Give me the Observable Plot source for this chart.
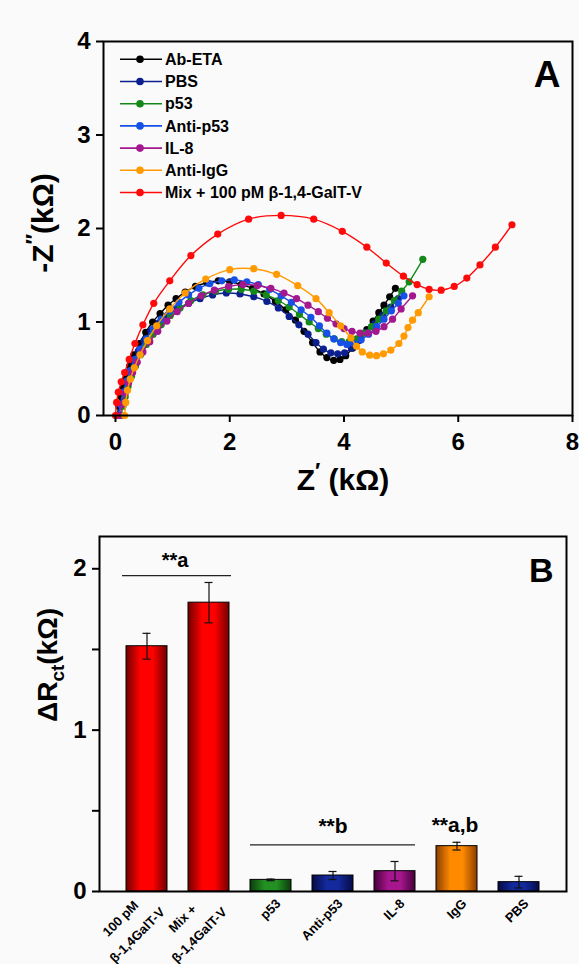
<!DOCTYPE html>
<html><head><meta charset="utf-8">
<script src="https://cdn.jsdelivr.net/npm/d3@7"></script>
<script src="https://cdn.jsdelivr.net/npm/@observablehq/plot@0.6"></script>
<style>
body{margin:0;background:#fafafa;}
#wrap{width:579px;height:964px;}
svg{display:block;}
</style></head><body><div id="wrap"></div>
<script>
// ---------- Panel A data (Nyquist) ----------
const seriesNames = ["Ab-ETA","PBS","p53","Anti-p53","IL-8","Anti-IgG","Mix + 100 pM β-1,4-GalT-V"];
const zAbEta = [[0.03,0],[0.06,0.1],[0.1,0.2],[0.14,0.3],[0.19,0.41],[0.25,0.53],[0.32,0.65],[0.42,0.77],[0.53,0.89],[0.65,1.0],[0.78,1.09],[0.92,1.18],[1.06,1.25],[1.22,1.32],[1.4,1.38],[1.6,1.42],[1.8,1.44],[2.0,1.43],[2.2,1.4],[2.4,1.36],[2.6,1.3],[2.8,1.22],[2.98,1.13],[3.15,1.02],[3.3,0.9],[3.45,0.78],[3.58,0.68],[3.7,0.62],[3.82,0.59],[3.93,0.6],[4.03,0.64],[4.15,0.72],[4.28,0.82],[4.4,0.92],[4.51,1.01],[4.61,1.1],[4.7,1.18],[4.8,1.27],[4.9,1.36]];
const zPBS = [[0.04,0],[0.08,0.12],[0.13,0.25],[0.18,0.36],[0.24,0.47],[0.31,0.58],[0.4,0.69],[0.5,0.8],[0.62,0.9],[0.76,0.99],[0.91,1.07],[1.08,1.14],[1.28,1.2],[1.48,1.25],[1.7,1.29],[1.94,1.31],[2.18,1.3],[2.42,1.27],[2.65,1.22],[2.85,1.15],[3.04,1.06],[3.21,0.97],[3.37,0.87],[3.51,0.78],[3.64,0.71],[3.77,0.67],[3.89,0.66],[4.01,0.67],[4.13,0.72],[4.26,0.8],[4.4,0.89],[4.54,0.98],[4.68,1.07],[4.82,1.16],[4.95,1.25]];
const zP53 = [[0.1,0],[0.13,0.1],[0.17,0.2],[0.22,0.31],[0.28,0.42],[0.35,0.53],[0.44,0.65],[0.54,0.76],[0.66,0.87],[0.8,0.97],[0.96,1.07],[1.13,1.15],[1.32,1.23],[1.53,1.29],[1.75,1.33],[1.98,1.35],[2.2,1.35],[2.42,1.33],[2.64,1.29],[2.85,1.23],[3.04,1.16],[3.22,1.08],[3.39,1.0],[3.55,0.93],[3.69,0.87],[3.83,0.82],[3.96,0.79],[4.09,0.79],[4.22,0.82],[4.35,0.88],[4.48,0.95],[4.61,1.03],[4.74,1.12],[4.88,1.23],[5.01,1.33],[5.14,1.43],[5.38,1.67]];
const zAntiP53 = [[0.05,0],[0.09,0.12],[0.14,0.25],[0.2,0.37],[0.26,0.48],[0.34,0.6],[0.43,0.71],[0.54,0.82],[0.66,0.93],[0.8,1.03],[0.95,1.12],[1.11,1.21],[1.28,1.29],[1.46,1.36],[1.65,1.41],[1.86,1.44],[2.08,1.45],[2.3,1.43],[2.5,1.4],[2.7,1.35],[2.9,1.28],[3.08,1.21],[3.25,1.13],[3.42,1.05],[3.57,0.96],[3.7,0.88],[3.82,0.82],[3.94,0.78],[4.05,0.76],[4.17,0.77],[4.3,0.81],[4.43,0.87],[4.57,0.95],[4.7,1.03],[4.83,1.12],[4.95,1.2],[5.05,1.28]];
const zIL8 = [[0.08,0],[0.12,0.12],[0.17,0.24],[0.23,0.35],[0.3,0.46],[0.38,0.57],[0.48,0.68],[0.6,0.79],[0.74,0.9],[0.9,1.01],[1.08,1.11],[1.28,1.2],[1.5,1.28],[1.73,1.34],[1.98,1.38],[2.23,1.4],[2.48,1.39],[2.72,1.36],[2.95,1.31],[3.17,1.25],[3.37,1.18],[3.55,1.11],[3.71,1.04],[3.86,0.98],[4.0,0.93],[4.14,0.9],[4.28,0.88],[4.42,0.88],[4.56,0.9],[4.7,0.95],[4.85,1.03],[5.0,1.14],[5.2,1.28]];
const zAntiIgG = [[0.16,0],[0.18,0.14],[0.21,0.27],[0.26,0.39],[0.33,0.51],[0.43,0.65],[0.56,0.8],[0.72,0.96],[0.95,1.14],[1.22,1.31],[1.58,1.46],[2.0,1.56],[2.42,1.57],[2.82,1.51],[3.19,1.39],[3.51,1.25],[3.74,1.1],[3.94,0.96],[4.12,0.83],[4.22,0.74],[4.32,0.68],[4.45,0.645],[4.57,0.64],[4.69,0.66],[4.82,0.7],[4.96,0.77],[5.05,0.85],[5.12,0.94],[5.2,1.02],[5.3,1.1],[5.49,1.27]];
const zMix = [[0.0,0],[0.02,0.14],[0.05,0.25],[0.1,0.36],[0.16,0.46],[0.24,0.6],[0.34,0.77],[0.48,0.97],[0.67,1.2],[0.95,1.44],[1.32,1.71],[1.79,1.94],[2.33,2.1],[2.9,2.14],[3.47,2.1],[3.97,1.97],[4.4,1.8],[4.74,1.63],[5.04,1.49],[5.28,1.4],[5.49,1.35],[5.7,1.34],[5.93,1.38],[6.15,1.47],[6.38,1.61],[6.65,1.8],[6.94,2.04]];
const xTicksA = [0,2,4,6,8];
const yTicksA = [0,1,2,3,4];

// ---------- Panel B data (bars) ----------
const barCategories = ["100 pM\nβ-1,4GalT-V","Mix +\nβ-1,4GalT-V","p53","Anti-p53","IL-8","IgG","PBS"];
const barValues = [1.52,1.79,0.072,0.099,0.126,0.281,0.058];
const barErrors = [0.08,0.125,0.005,0.025,0.06,0.024,0.036];
const groupA = {from: barCategories[0], to: barCategories[1], y: 1.958, label: "**a", labelY: 2.01};
const groupB = {from: barCategories[2], to: barCategories[4], y: 0.289, label: "**b", labelY: 0.36};
const groupAB = {at: barCategories[5], label: "**a,b", labelY: 0.367};
const yTicksB = [0,1,2];
const yMinorB = [0.5,1.5];

// ---------- styles ----------
const seriesColors = ["#000000","#0b1f8f","#14891a","#1650e6","#a3178f","#ff9a00","#ff0a0a"];
const barGrad = [["#700000","#ff0000"],["#700000","#ff0000"],["#0b3d0b","#229022"],["#050a45","#13299c"],["#45003a","#a8168f"],["#8a3e00","#ff8a00"],["#050a45","#13299c"]];
const FONT = "'Liberation Sans', Arial, sans-serif";
const intFmt = d3.format("d");
const wrap = document.getElementById("wrap");

// ---------- Panel A ----------
const seriesData = [zAbEta, zPBS, zP53, zAntiP53, zIL8, zAntiIgG, zMix];
const marksA = [];
seriesData.forEach((arr, i) => {
  marksA.push(Plot.line(arr, {x: d => d[0], y: d => d[1], stroke: seriesColors[i], strokeWidth: 1.4, curve: "catmull-rom"}));
  marksA.push(Plot.dot(arr, {x: d => d[0], y: d => d[1], fill: seriesColors[i], r: 3.6}));
});
const chartA = Plot.plot({
  width: 579, height: 500, marginLeft: 103, marginRight: 7, marginTop: 41, marginBottom: 85,
  style: {fontFamily: FONT, background: "#fafafa", color: "black", overflow: "visible"},
  x: {domain: [-0.21, 8]},
  y: {domain: [0, 4]},
  marks: [
    ...marksA,
    Plot.frame({stroke: "black", strokeWidth: 2}),
    Plot.axisX({ticks: xTicksA, tickFormat: intFmt, tickSize: 7, tickPadding: 10, fontSize: 24, fontWeight: "bold", label: null, strokeWidth: 2}),
    Plot.axisY({ticks: yTicksA, tickFormat: intFmt, tickSize: 7, tickPadding: 6, fontSize: 24, fontWeight: "bold", label: null, strokeWidth: 2}),
    Plot.text(["A"], {frameAnchor: "top-right", dx: -12, dy: 19, fontSize: 37, fontWeight: "bold", lineAnchor: "top"})
  ]
});
wrap.appendChild(chartA);
{
  const svg = d3.select(chartA);
  // legend
  const lg = svg.append("g").style("font", `bold 16px ${FONT}`).attr("text-anchor", "start");
  seriesNames.forEach((n, i) => {
    const y = 59.3 + i * 22.2;
    lg.append("line").attr("x1", 120).attr("x2", 162).attr("y1", y).attr("y2", y).attr("stroke", seriesColors[i]).attr("stroke-width", 1.6);
    lg.append("circle").attr("cx", 140).attr("cy", y).attr("r", 3.8).attr("fill", seriesColors[i]);
    lg.append("text").attr("x", 165).attr("y", y).attr("dy", "0.36em").attr("text-anchor", "start").attr("fill", "black").text(n);
  });
  // y title
  const ty = svg.append("text").attr("transform", "translate(53,223) rotate(-90)").attr("text-anchor", "middle")
    .style("font", `bold 30px ${FONT}`).attr("fill", "black");
  ty.append("tspan").text("-Z");
  ty.append("tspan").attr("dy", -12).style("font-size", "22px").text("″");
  ty.append("tspan").attr("dy", 12).text("(kΩ)");
  // x title
  const tx = svg.append("text").attr("x", 343).attr("y", 490).attr("text-anchor", "middle")
    .style("font", `bold 30px ${FONT}`).attr("fill", "black");
  tx.append("tspan").text("Z");
  tx.append("tspan").attr("dy", -12).style("font-size", "22px").text("′");
  tx.append("tspan").attr("dy", 12).text(" (kΩ)");
}

// ---------- Panel B ----------
const barRows = barCategories.map((c, i) => ({cat: c, val: barValues[i], err: barErrors[i], fill: `url(#bg${i})`}));
const chartB = Plot.plot({
  width: 579, height: 464, marginLeft: 99, marginRight: 13, marginTop: 36, marginBottom: 73,
  style: {fontFamily: FONT, background: "#fafafa", color: "black", overflow: "visible"},
  x: {domain: barCategories, paddingInner: 0.336, paddingOuter: 0.42, axis: null},
  y: {domain: [0, 2.2]},
  color: {type: "identity"},
  marks: [
    Plot.barY(barRows, {x: "cat", y: "val", fill: "fill", stroke: "black", strokeWidth: 1}),
    Plot.ruleX(barRows, {x: "cat", y1: d => d.val - d.err, y2: d => d.val + d.err, stroke: "#111", strokeWidth: 1.2}),
    Plot.tickY(barRows, {x: "cat", y: d => d.val + d.err, insetLeft: 16.5, insetRight: 16.5, stroke: "#111", strokeWidth: 1.2}),
    Plot.tickY(barRows, {x: "cat", y: d => d.val - d.err, insetLeft: 16.5, insetRight: 16.5, stroke: "#111", strokeWidth: 1.2}),
    Plot.ruleY([groupA], {x1: "from", x2: "to", y: "y", stroke: "#222", strokeWidth: 1.3, insetLeft: -4, insetRight: -2}),
    Plot.ruleY([groupB], {x1: "from", x2: "to", y: "y", stroke: "#222", strokeWidth: 1.3}),
    Plot.text([groupA], {x: "from", y: "labelY", text: "label", dx: 28, lineAnchor: "bottom", fontSize: 20, fontWeight: "bold"}),
    Plot.text([groupB], {x: "from", y: "labelY", text: "label", dx: 62, lineAnchor: "bottom", fontSize: 21, fontWeight: "bold"}),
    Plot.text([groupAB], {x: "at", y: "labelY", text: "label", dx: -2, lineAnchor: "bottom", fontSize: 21, fontWeight: "bold"}),
    Plot.frame({stroke: "black", strokeWidth: 2}),
    Plot.axisY({ticks: yTicksB, tickFormat: intFmt, tickSize: 7, tickPadding: 6, fontSize: 24, fontWeight: "bold", label: null, strokeWidth: 2}),
    Plot.axisY({ticks: yMinorB, tickSize: 7, tickFormat: () => "", label: null, strokeWidth: 2}),
    Plot.text(["B"], {frameAnchor: "top-right", dx: -13, dy: 21, fontSize: 34, fontWeight: "bold", lineAnchor: "top"})
  ]
});
wrap.appendChild(chartB);
{
  const svg = d3.select(chartB);
  const defs = svg.insert("defs", ":first-child");
  barGrad.forEach(([dark, light], i) => {
    const g = defs.append("linearGradient").attr("id", `bg${i}`).attr("x1", 0).attr("x2", 1).attr("y1", 0).attr("y2", 0);
    g.append("stop").attr("offset", "0%").attr("stop-color", dark);
    g.append("stop").attr("offset", "35%").attr("stop-color", light);
    g.append("stop").attr("offset", "65%").attr("stop-color", light);
    g.append("stop").attr("offset", "100%").attr("stop-color", dark);
  });
  // rotated category labels placed with the plot's own x/y scales
  const sx = chartB.scale("x"), sy = chartB.scale("y");
  const y0 = sy.apply(0);
  const lab = svg.append("g").style("font", `bold 13px ${FONT}`).attr("fill", "black");
  barCategories.forEach(c => {
    const cx = sx.apply(c) + sx.bandwidth / 2;
    const lines = c.split("\n");
    if (lines.length === 1) {
      lab.append("text").attr("transform", `translate(${cx + 8},${y0 + 10.5}) rotate(-45)`)
        .attr("text-anchor", "end").attr("dy", "0.32em").text(c);
    } else {
      const t = lab.append("text").attr("transform", `translate(${cx - 17.5},${y0 + 36}) rotate(-45)`)
        .attr("text-anchor", "middle");
      lines.forEach((ln, k) => {
        t.append("tspan").attr("x", 0).attr("y", (k - (lines.length - 1) / 2) * 23.4 + 4.2).text(ln);
      });
    }
  });
  // y title
  const t = svg.append("text").attr("transform", "translate(57,165) rotate(-90)").attr("text-anchor", "middle")
    .style("font", `bold 28px ${FONT}`).attr("fill", "black");
  t.append("tspan").text("ΔR");
  t.append("tspan").attr("dy", 7).style("font-size", "19px").text("ct");
  t.append("tspan").attr("dy", -7).text("(kΩ)");
}
</script></body></html>
